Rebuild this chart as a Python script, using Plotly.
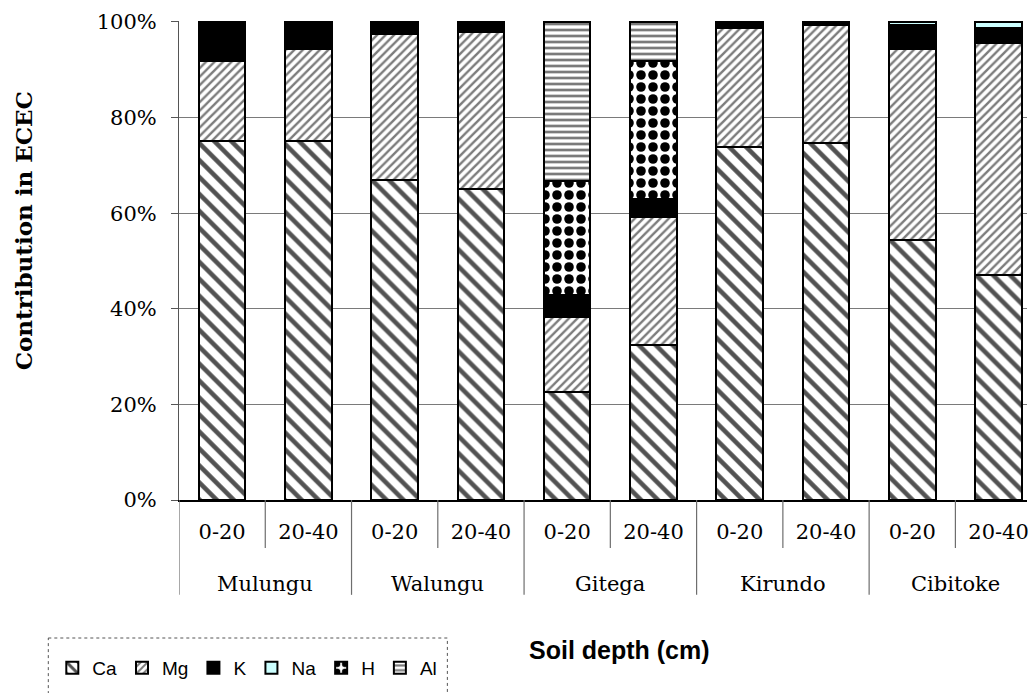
import plotly.graph_objects as go

# Sites and sampling depths (two depths per site)
sites = ["Mulungu", "Walungu", "Gitega", "Kirundo", "Cibitoke"]
depths = ["0-20", "20-40"]

# Share of each cation in the effective CEC (%), one value per site/depth bar
ca = [75.2, 75.2, 67.0, 65.1, 22.5, 32.4, 73.9, 74.6, 54.3, 47.0]
mg = [16.7, 19.1, 30.5, 32.9, 15.7, 26.7, 24.9, 24.7, 40.1, 48.7]
k = [8.1, 5.7, 2.5, 2.0, 4.4, 3.6, 1.2, 0.7, 5.0, 3.1]
na = [0.0, 0.0, 0.0, 0.0, 0.3, 0.2, 0.0, 0.0, 0.6, 1.2]
h = [0.0, 0.0, 0.0, 0.0, 23.9, 29.0, 0.0, 0.0, 0.0, 0.0]
al = [0.0, 0.0, 0.0, 0.0, 33.2, 8.1, 0.0, 0.0, 0.0, 0.0]

y_ticks = [0, 20, 40, 60, 80, 100]
y_tick_text = ["0%", "20%", "40%", "60%", "80%", "100%"]

n_bars = len(sites) * len(depths)
xpos = list(range(n_bars))
depth_labels = [d for _ in sites for d in depths]

series = [
    ("Ca", ca, dict(shape="\\", fgcolor="#525252", bgcolor="white", fgopacity=1, size=12, solidity=0.38)),
    ("Mg", mg, dict(shape="/", fgcolor="#7c7c7c", bgcolor="white", fgopacity=1, size=6, solidity=0.4)),
    ("K", k, None),
    ("Na", na, None),
    ("H", h, dict(shape=".", fgcolor="black", bgcolor="white", fgopacity=1, size=12, solidity=0.5)),
    ("Al", al, dict(shape="-", fgcolor="#7a7a7a", bgcolor="white", fgopacity=1, size=6, solidity=0.45)),
]
solid_fill = {"K": "black", "Na": "#ccffff"}

fig = go.Figure()
for name, vals, pattern in series:
    marker = dict(line=dict(color="black", width=2))
    if pattern is not None:
        marker["color"] = "white"
        marker["pattern"] = pattern
    else:
        marker["color"] = solid_fill[name]
    fig.add_trace(go.Bar(x=xpos, y=vals, name=name, width=0.54, marker=marker))

# Category dividers under the axis: short ones between depths, long ones between sites
shapes = []
for i in range(n_bars):
    left = i - 0.5
    long_div = (i % 2 == 0)
    shapes.append(dict(type="line", xref="x", yref="paper", x0=left, x1=left,
                       y0=0, y1=-0.198 if long_div else -0.1,
                       line=dict(color="#6e6e6e", width=1.2)))

# Dotted frame around the legend
shapes.append(dict(type="rect", xref="paper", yref="paper",
                   x0=(48 - 179) / 850, x1=(448 - 179) / 850,
                   y0=(500 - 638) / 479, y1=(500 - 705) / 479,
                   line=dict(color="#555555", width=1, dash="dot"),
                   fillcolor="rgba(0,0,0,0)"))

annotations = []
for s_i, site in enumerate(sites):
    annotations.append(dict(text=site, xref="x", yref="paper",
                            x=2 * s_i + 0.5, y=(500 - 584) / 479,
                            xanchor="center", yanchor="middle", showarrow=False,
                            font=dict(family="DejaVu Serif", size=21, color="black")))

annotations.append(dict(text="<b>Contribution in ECEC</b>", xref="paper", yref="paper",
                        x=(23 - 179) / 850, y=(500 - 231) / 479, textangle=-90,
                        xanchor="center", yanchor="middle", showarrow=False,
                        font=dict(family="DejaVu Serif", size=23, color="black")))
annotations.append(dict(text="<b>Soil depth (cm)</b>", xref="paper", yref="paper",
                        x=(621 - 179) / 850, y=(500 - 650) / 479,
                        xanchor="center", yanchor="middle", showarrow=False,
                        font=dict(family="Liberation Sans", size=25, color="black")))

fig.update_layout(
    barmode="stack",
    width=1029, height=693,
    margin=dict(l=179, r=0, t=21, b=193),
    paper_bgcolor="white", plot_bgcolor="white",
    font=dict(family="DejaVu Serif", size=21, color="black"),
    showlegend=True,
    legend=dict(orientation="h", x=(52 - 179) / 850, xanchor="left",
                y=(500 - 668) / 479, yanchor="middle",
                bgcolor="rgba(0,0,0,0)", borderwidth=0,
                font=dict(family="Liberation Sans", size=19, color="black"),
                traceorder="normal"),
    xaxis=dict(range=[-0.5, 9.33], tickmode="array", tickvals=xpos, ticktext=depth_labels,
               ticks="", showgrid=False, showline=True, linecolor="black", linewidth=1.5,
               zeroline=False, ticklabelstandoff=12, ticklabeloverflow="allow",
               tickfont=dict(family="DejaVu Serif", size=21, color="black")),
    yaxis=dict(range=[0, 100.2], tickmode="array", tickvals=y_ticks, ticktext=y_tick_text,
               showgrid=True, gridcolor="#7a7a7a", gridwidth=1,
               ticks="outside", ticklen=7, tickcolor="#555555",
               showline=True, linecolor="#555555", linewidth=1,
               zeroline=False, ticklabelstandoff=10,
               tickfont=dict(family="DejaVu Serif", size=21, color="black")),
    shapes=shapes,
    annotations=annotations,
)

fig.write_html("out.html")
